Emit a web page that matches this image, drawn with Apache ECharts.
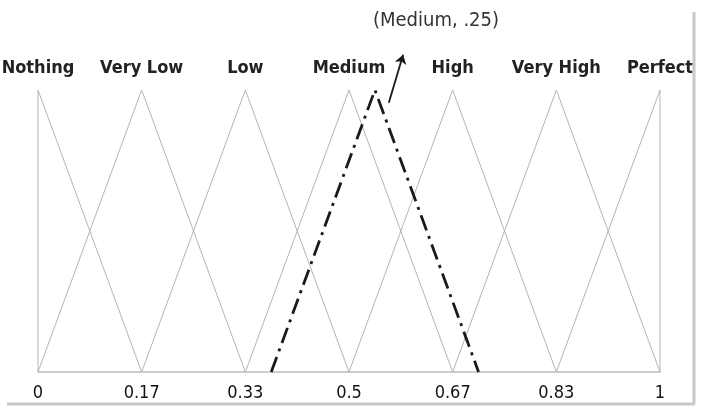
<!DOCTYPE html>
<html>
<head>
<meta charset="utf-8">
<script src="https://cdn.jsdelivr.net/npm/echarts@6/dist/echarts.min.js"></script>
<style>
  html, body { margin: 0; padding: 0; background: #ffffff; }
  #chart { width: 702px; height: 411px; }
</style>
</head>
<body>
<div id="chart"></div>
<script>
// ---- data ----
const termNames   = ['Nothing', 'Very Low', 'Low', 'Medium', 'High', 'Very High', 'Perfect'];
const termCenters = [0, 1/6, 2/6, 3/6, 4/6, 5/6, 1];
const tickLabels  = ['0', '0.17', '0.33', '0.5', '0.67', '0.83', '1'];
const halfWidth   = 1/6;
// shifted 2-tuple term (Medium, .25)
const tupleLabel  = '(Medium, .25)';
const tupleX      = [0.375, 0.5417, 0.7083];
const tupleY      = [0, 1, 0];
// annotation arrow (data coords)
const arrowFrom   = [0.564, 0.955];
const arrowTo     = [0.587, 1.125];

// ---- build series ----
function triangle(c) {
  const pts = [];
  if (c - halfWidth >= -1e-9) pts.push([c - halfWidth, 0]); else pts.push([c, 0]);
  pts.push([c, 1]);
  if (c + halfWidth <= 1 + 1e-9) pts.push([c + halfWidth, 0]); else pts.push([c, 0]);
  return pts;
}

const series = termCenters.map((c, i) => ({
  name: termNames[i],
  type: 'line',
  data: triangle(c),
  showSymbol: false,
  silent: true,
  lineStyle: { color: '#b4b4b4', width: 1 },
  z: 2
}));

series.push({
  name: tupleLabel,
  type: 'line',
  data: tupleX.map((x, i) => [x, tupleY[i]]),
  showSymbol: false,
  silent: true,
  clip: false,
  lineStyle: { color: '#1a1a1a', width: 2.8, type: [16, 6, 3, 6] },
  z: 3
});

series.push({
  name: 'arrow',
  type: 'lines',
  coordinateSystem: 'cartesian2d',
  clip: false,
  silent: true,
  symbol: ['none', 'arrow'],
  symbolSize: 9,
  lineStyle: { color: '#1a1a1a', width: 1.8, opacity: 1 },
  data: [{ coords: [arrowFrom, arrowTo] }],
  z: 4
});

const FONT = '"DejaVu Sans Condensed", "DejaVu Sans"';

const chart = echarts.init(document.getElementById('chart'), null, { renderer: 'canvas' });
chart.setOption({
  animation: false,
  backgroundColor: '#ffffff',
  grid: { left: 38, right: 42, top: 90, bottom: 39, containLabel: false, outerBoundsMode: 'none' },
  xAxis: [
    {
      type: 'value', min: 0, max: 1, position: 'bottom',
      axisLine: { show: true, lineStyle: { color: '#bdbdbd', width: 1.5 } },
      axisTick: { show: false },
      splitLine: { show: false },
      axisLabel: {
        customValues: termCenters,
        margin: 12,
        fontFamily: FONT,
        fontSize: 18,
        color: '#111',
        formatter: v => tickLabels[Math.round(v * 6)]
      }
    },
    {
      type: 'value', min: 0, max: 1, position: 'top',
      axisLine: { show: false },
      axisTick: { show: false },
      splitLine: { show: false },
      axisLabel: {
        customValues: termCenters,
        margin: 13,
        fontFamily: FONT,
        fontWeight: 'bold',
        fontSize: 18,
        color: '#222',
        formatter: v => termNames[Math.round(v * 6)]
      }
    }
  ],
  yAxis: { type: 'value', min: 0, max: 1, show: false },
  graphic: [
    {
      type: 'text', left: 373, top: 11, z: 10,
      style: { text: tupleLabel, font: '20px ' + FONT, fill: '#333' }
    },
    {
      type: 'line', z: 10,
      shape: { x1: 7, y1: 404, x2: 695, y2: 404 },
      style: { stroke: '#c8c8c8', lineWidth: 3 }
    },
    {
      type: 'line', z: 10,
      shape: { x1: 694, y1: 12, x2: 694, y2: 404 },
      style: { stroke: '#c8c8c8', lineWidth: 3 }
    },
    {
      type: 'rect', z: 9,
      shape: { x: 696, y: 0, width: 10, height: 411 },
      style: { fill: '#ffffff' }
    }
  ],
  series: series
});
</script>
</body>
</html>
